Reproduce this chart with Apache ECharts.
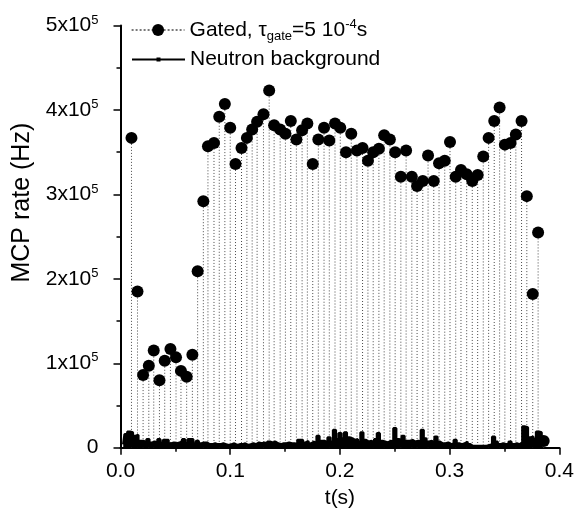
<!DOCTYPE html>
<html>
<head>
<meta charset="utf-8">
<script src="https://cdn.jsdelivr.net/npm/echarts@6/dist/echarts.min.js"></script>
<style>
html,body{margin:0;padding:0;background:#fff;}
#chart{width:577px;height:514px;}
</style>
</head>
<body>
<div id="chart"></div>
<script>
// ---- Data ----
const gatedT = [0.0100, 0.0155, 0.0206, 0.0258, 0.0303, 0.0355, 0.0403, 0.0455, 0.0506, 0.0551,
  0.0603, 0.0655, 0.0703, 0.0755, 0.0797, 0.0852, 0.0900, 0.0951, 0.1000, 0.1048,
  0.1103, 0.1152, 0.1200, 0.1245, 0.1303, 0.1355, 0.1400, 0.1455, 0.1503, 0.1552,
  0.1603, 0.1655, 0.1703, 0.1752, 0.1803, 0.1855, 0.1903, 0.1955, 0.2003, 0.2055,
  0.2103, 0.2155, 0.2206, 0.2255, 0.2303, 0.2355, 0.2403, 0.2455, 0.2503, 0.2555,
  0.2603, 0.2655, 0.2703, 0.2755, 0.2803, 0.2855, 0.2903, 0.2955, 0.3003, 0.3055,
  0.3103, 0.3155, 0.3206, 0.3255, 0.3306, 0.3355, 0.3406, 0.3455, 0.3503, 0.3555,
  0.3603, 0.3655, 0.3703, 0.3757, 0.3806, 0.3857];
const gatedRate = [367000, 185000, 86000, 97000, 115000, 80000, 103000, 117000, 107000, 91000,
  84000, 110000, 209000, 292000, 357000, 361000, 392000, 407000, 379000, 336000,
  355000, 367000, 377000, 386000, 395000, 423000, 382000, 377000, 372000, 387000,
  365000, 376000, 384000, 336000, 365000, 379000, 364000, 384000, 379000, 350000,
  372000, 352000, 355000, 340000, 350000, 354000, 370000, 365000, 350000, 321000,
  352000, 321000, 310000, 316000, 346000, 316000, 337000, 340000, 362000, 321000,
  329000, 324000, 316000, 323000, 345000, 367000, 387000, 403000, 359000, 361000,
  371000, 387000, 298000, 182000, 255000, 8000];

const bgT = [0.0025,0.0050,0.0075,0.0100,0.0125,0.0150,0.0175,0.0200,0.0225,0.0250,
  0.0275,0.0300,0.0325,0.0350,0.0375,0.0400,0.0425,0.0450,0.0475,0.0500,
  0.0525,0.0550,0.0575,0.0600,0.0625,0.0650,0.0675,0.0700,0.0725,0.0750,
  0.0775,0.0800,0.0825,0.0850,0.0875,0.0900,0.0925,0.0950,0.0975,0.1000,
  0.1025,0.1050,0.1075,0.1100,0.1125,0.1150,0.1175,0.1200,0.1225,0.1250,
  0.1275,0.1300,0.1325,0.1350,0.1375,0.1400,0.1425,0.1450,0.1475,0.1500,
  0.1525,0.1550,0.1575,0.1600,0.1625,0.1650,0.1675,0.1700,0.1725,0.1750,
  0.1775,0.1800,0.1825,0.1850,0.1875,0.1900,0.1925,0.1950,0.1975,0.2000,
  0.2025,0.2050,0.2075,0.2100,0.2125,0.2150,0.2175,0.2200,0.2225,0.2250,
  0.2275,0.2300,0.2325,0.2350,0.2375,0.2400,0.2425,0.2450,0.2475,0.2500,
  0.2525,0.2550,0.2575,0.2600,0.2625,0.2650,0.2675,0.2700,0.2725,0.2750,
  0.2775,0.2800,0.2825,0.2850,0.2875,0.2900,0.2925,0.2950,0.2975,0.3000,
  0.3025,0.3050,0.3075,0.3100,0.3125,0.3150,0.3175,0.3200,0.3225,0.3250,
  0.3275,0.3300,0.3325,0.3350,0.3375,0.3400,0.3425,0.3450,0.3475,0.3500,
  0.3525,0.3550,0.3575,0.3600,0.3625,0.3650,0.3675,0.3700,0.3725,0.3750,
  0.3775,0.3800,0.3825,0.3850];
const bgRate = [4000,16000,19000,18000,14000,15000,8000,8000,6000,10000,
  6000,7000,6000,10000,6000,9000,9000,5000,6000,5000,
  6000,7000,10000,6000,10000,10000,5000,8000,5000,6000,
  6000,4000,4000,5000,4000,4000,5000,4000,3000,4000,
  5000,3000,4000,4000,5000,3000,4000,5000,4000,6000,
  5000,6000,4000,7000,6000,7000,5000,4000,5000,5000,
  6000,5000,5000,4000,9000,9000,6000,8000,5000,7000,
  5000,14000,8000,8000,6000,12000,7000,21000,10000,17000,
  11000,18000,12000,11000,9000,10000,7000,18000,9000,7000,
  8000,6000,10000,17000,8000,7000,6000,8000,7000,23000,
  10000,9000,14000,8000,8000,9000,7000,8000,7000,21000,
  11000,7000,8000,6000,13000,7000,5000,5000,6000,4000,
  5000,9000,5000,4000,5000,7000,4000,2000,2000,2000,
  2000,2000,2000,3000,4000,13000,7000,4000,5000,4000,
  4000,7000,4000,5000,4000,6000,25000,24000,12000,13000,
  10000,19000,18000,10000];

const xTicks = ['0.0','0.1','0.2','0.3','0.4'];
const yTickMantissa = ['0','1','2','3','4','5'];

// ---- Chart ----
const FONT = '"Liberation Sans", Arial, Helvetica, sans-serif';
const chart = echarts.init(document.getElementById('chart'), null, {renderer:'canvas'});

const gatedData = gatedT.map((t,i)=>[t, gatedRate[i]]);
const bgData = bgT.map((t,i)=>[t, bgRate[i]]);

chart.setOption({
  animation:false,
  backgroundColor:'#fff',
  textStyle:{fontFamily:FONT, color:'#000'},
  grid:{left:120.5, right:16.5, top:25.6, bottom:66.3, containLabel:false},
  legend:[
    {
      data:[{name:'gated', lineStyle:{color:'#222', width:1.2, type:[2,2], opacity:1}}],
      lineStyle:{color:'#222', width:1.2, type:[2,2], opacity:1},
      left:126, top:13, orient:'vertical',
      itemWidth:53, itemHeight:15, itemGap:6,
      formatter: ()=> 'Gated, τ{sub|gate}=5 10{sup|-4}s',
      textStyle:{fontSize:21, fontFamily:FONT, color:'#000',
        rich:{
          sub:{fontSize:13, fontFamily:FONT, color:'#000', padding:[12,0,0,0]},
          sup:{fontSize:13, fontFamily:FONT, color:'#000', padding:[0,0,11,0]}
        }}
    },
    {
      data:[{name:'bg'}],
      left:126, top:44, orient:'vertical',
      itemWidth:53, itemHeight:5, itemGap:6,
      formatter: ()=> 'Neutron background',
      textStyle:{fontSize:21, fontFamily:FONT, color:'#000'}
    }
  ],
  xAxis:{
    type:'value', min:0, max:0.4, interval:0.1,
    name:'t(s)', nameLocation:'middle', nameGap:40,
    nameTextStyle:{fontSize:21, fontFamily:FONT, color:'#000'},
    axisLine:{show:true, onZero:false, lineStyle:{color:'#000', width:2}},
    axisTick:{show:true, inside:false, length:7, lineStyle:{color:'#000', width:1.5}},
    minorTick:{show:true, splitNumber:2, length:4, lineStyle:{color:'#000', width:1.5}},
    splitLine:{show:false}, minorSplitLine:{show:false},
    axisLabel:{margin:13, fontSize:21, fontFamily:FONT, color:'#000',
      formatter:(v)=>{ const i=Math.round(v/0.1); return xTicks[i] !== undefined ? xTicks[i] : ''; }}
  },
  yAxis:{
    type:'value', min:0, max:500000, interval:100000,
    name:'MCP rate (Hz)', nameLocation:'middle', nameGap:78, nameRotate:90,
    nameTextStyle:{fontSize:25, fontFamily:FONT, color:'#000', padding:[0,0,0,68]},
    axisLine:{show:true, onZero:false, lineStyle:{color:'#000', width:2}},
    axisTick:{show:true, inside:false, length:7, lineStyle:{color:'#000', width:1.5}},
    minorTick:{show:true, splitNumber:2, length:4, lineStyle:{color:'#000', width:1.5}},
    splitLine:{show:false}, minorSplitLine:{show:false},
    axisLabel:{margin:22, fontSize:21, fontFamily:FONT, color:'#000',
      formatter:(v)=>{ const m = yTickMantissa[Math.round(v/100000)]; return m==='0' ? '0' : '{m|'+m+'x10}{e|5}'; },
      rich:{
        m:{fontSize:21, fontFamily:FONT, color:'#000'},
        e:{fontSize:13, fontFamily:FONT, color:'#000', padding:[0,0,11,0]}
      }}
  },
  series:[
    {
      name:'drop', type:'custom', data:gatedData, z:1, silent:true,
      renderItem:(params, api)=>{
        const p = api.coord([api.value(0), api.value(1)]);
        const b = api.coord([api.value(0), 0]);
        return {type:'line', shape:{x1:p[0], y1:p[1], x2:b[0], y2:b[1]},
          style:{stroke:'#4a4a4a', lineWidth:1, lineDash:[1,2]}};
      }
    },
    {
      name:'bg', type:'line', data:bgData, step:'middle', z:3,
      symbol:'rect', symbolSize:4, showSymbol:false,
      itemStyle:{color:'#000'},
      lineStyle:{color:'#000', width:2.5},
      areaStyle:{color:'#000', opacity:1}
    },
    {
      name:'gated', type:'line', data:gatedData, z:4,
      symbol:'circle', symbolSize:12, showSymbol:true,
      itemStyle:{color:'#000'},
      lineStyle:{opacity:0, width:0}
    }
  ]
});
</script>
</body>
</html>
